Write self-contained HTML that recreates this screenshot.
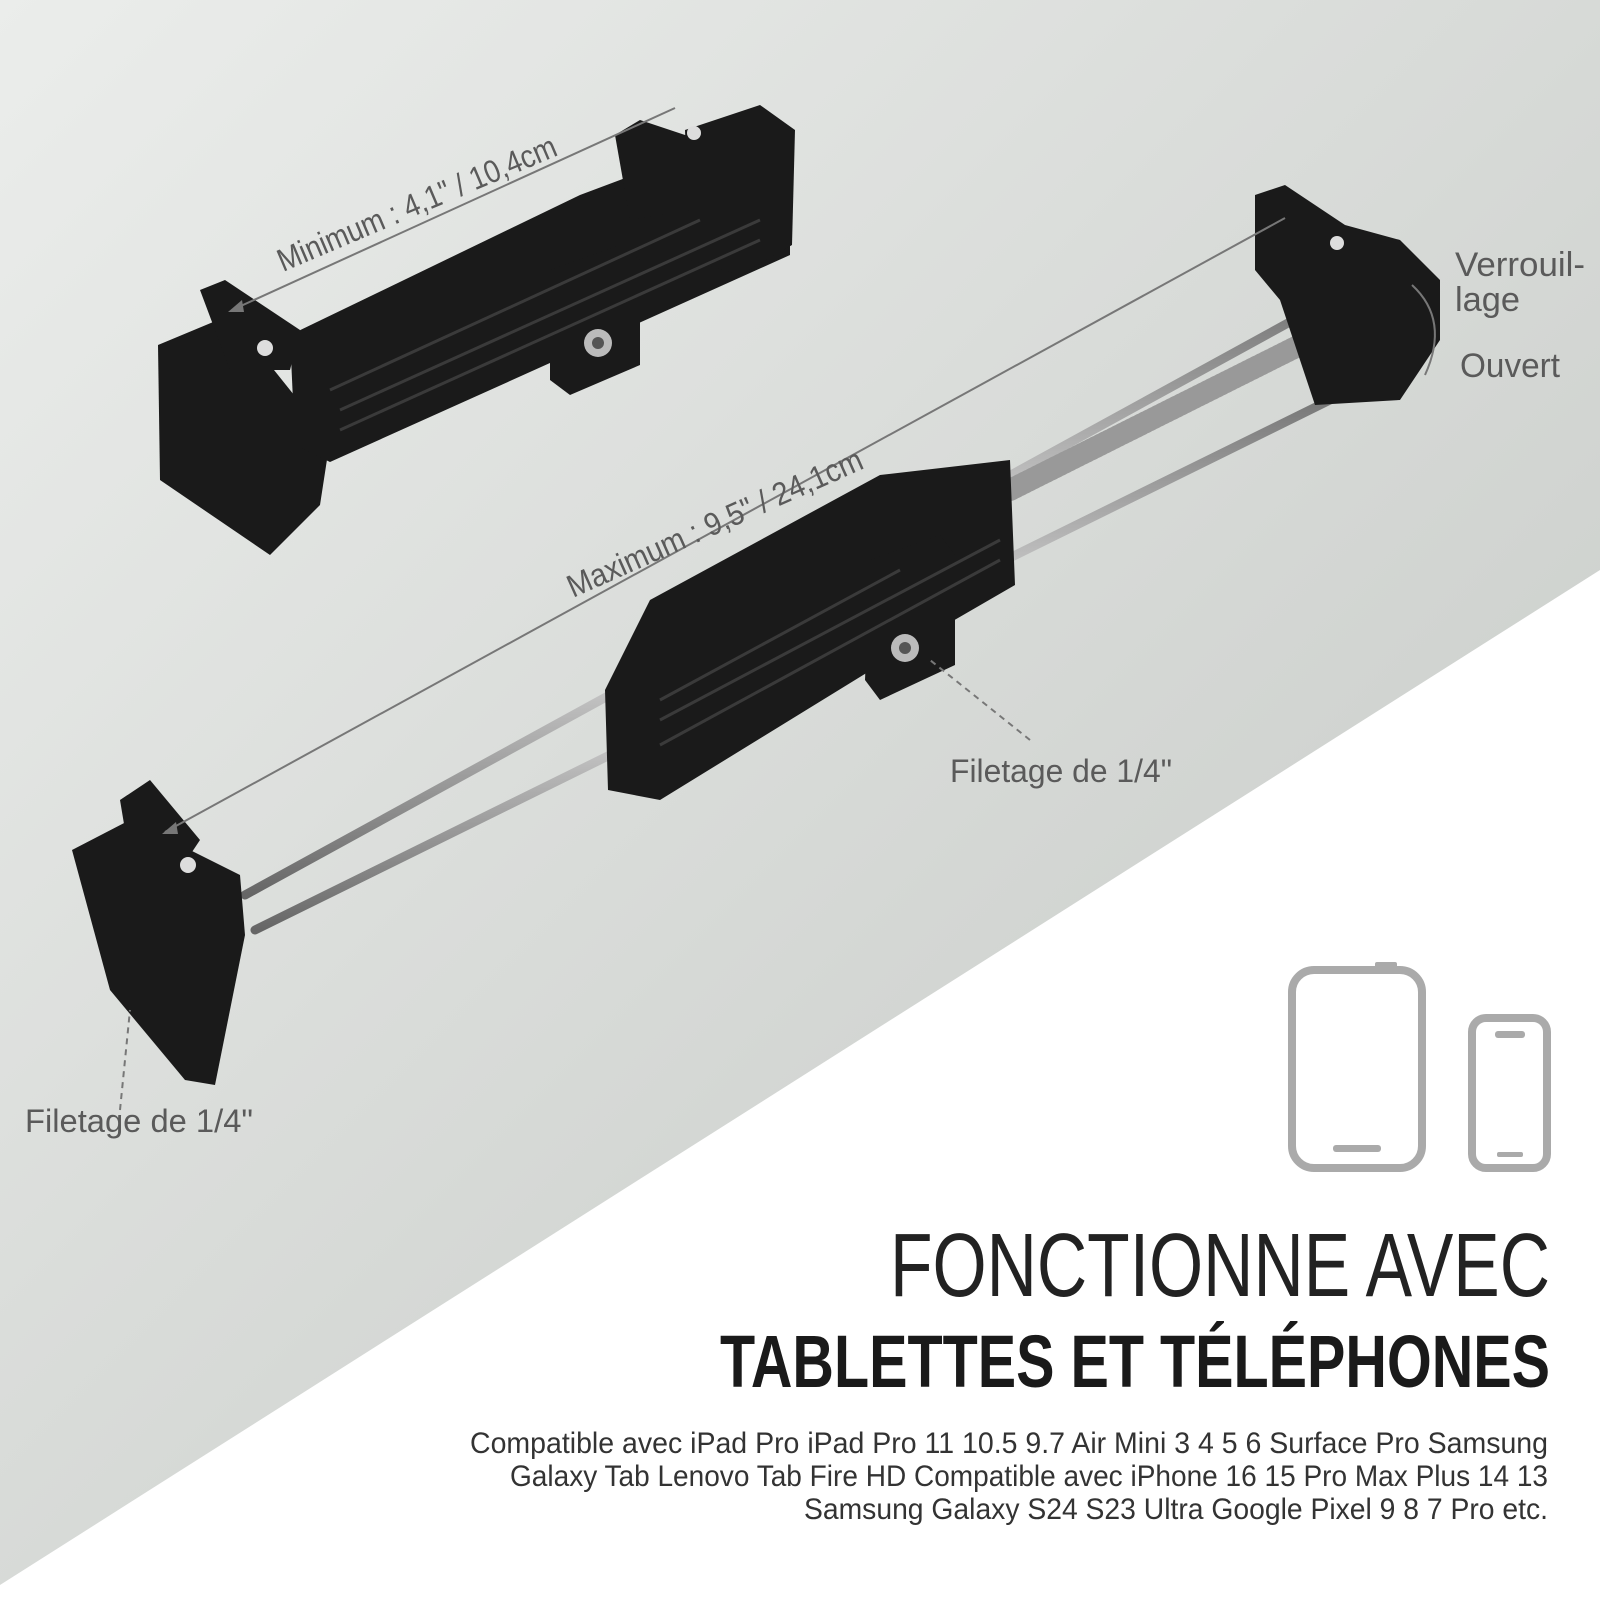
<!DOCTYPE html>
<html><head><meta charset="utf-8"><style>
html,body{margin:0;padding:0;width:1600px;height:1600px;overflow:hidden;background:#fff}
text{font-family:"Liberation Sans Narrow","Liberation Sans",sans-serif}
</style></head><body>
<svg width="1600" height="1600" viewBox="0 0 1600 1600" xmlns="http://www.w3.org/2000/svg">
<defs>
<linearGradient id="bg" x1="0" y1="0" x2="1" y2="1">
<stop offset="0" stop-color="#ebedeb"/><stop offset="0.6" stop-color="#d3d6d3"/><stop offset="1" stop-color="#c4c8c4"/>
</linearGradient>
<linearGradient id="rod" x1="0" y1="0" x2="0" y2="1"><stop offset="0" stop-color="#777"/><stop offset="0.5" stop-color="#eee"/><stop offset="1" stop-color="#666"/></linearGradient>
</defs>
<rect width="1600" height="1600" fill="url(#bg)"/>
<polygon points="1600,570 1600,1600 0,1600 0,1585" fill="#ffffff"/>

<!-- top device -->
<g fill="#1a1a1a">
<polygon points="158,345 230,315 330,440 320,505 270,555 160,480"/>
<polygon points="290,335 580,195 700,150 790,150 790,255 330,462 295,445"/>
<polygon points="685,130 760,105 795,130 792,245 740,275 690,260"/>
<polygon points="615,135 640,120 700,140 690,210 630,220"/>
<polygon points="200,290 225,280 300,330 290,370 230,370"/>
<polygon points="550,270 620,245 640,260 640,365 570,395 550,380"/>
</g>
<g stroke="#3a3a3a" stroke-width="3">
<line x1="340" y1="410" x2="760" y2="220"/><line x1="340" y1="430" x2="760" y2="240"/><line x1="330" y1="390" x2="700" y2="220"/>
</g>
<circle cx="598" cy="343" r="14" fill="#bbb"/><circle cx="598" cy="343" r="6" fill="#555"/>
<circle cx="265" cy="348" r="8" fill="#ddd"/><circle cx="694" cy="133" r="7" fill="#ddd"/>

<!-- bottom device rods -->
<g stroke-linecap="round">
<line x1="245" y1="895" x2="1330" y2="300" stroke="url(#rod)" stroke-width="9"/>
<line x1="255" y1="930" x2="1330" y2="400" stroke="url(#rod)" stroke-width="9"/>
<line x1="1010" y1="490" x2="1320" y2="335" stroke="#999" stroke-width="22" stroke-dasharray="2 3"/>
</g>
<g fill="#1a1a1a">
<polygon points="72,850 130,820 240,875 245,935 215,1085 185,1080 110,990"/>
<polygon points="120,800 150,780 200,840 180,870 130,860"/>
<polygon points="605,690 650,600 880,475 1010,460 1015,585 920,640 660,800 608,790"/>
<polygon points="870,560 940,535 955,555 955,665 880,700 865,680"/>
<polygon points="1255,195 1285,185 1345,225 1400,240 1440,280 1440,340 1400,400 1315,405 1280,300 1255,270"/>
</g>
<g stroke="#3a3a3a" stroke-width="3">
<line x1="660" y1="720" x2="1000" y2="540"/><line x1="660" y1="745" x2="1000" y2="560"/><line x1="660" y1="700" x2="900" y2="570"/>
</g>
<circle cx="905" cy="648" r="14" fill="#bbb"/><circle cx="905" cy="648" r="6" fill="#555"/>
<circle cx="188" cy="865" r="8" fill="#ddd"/><circle cx="1337" cy="243" r="7" fill="#ddd"/>

<!-- dimension lines -->
<g stroke="#777" stroke-width="2" fill="none">
<line x1="232" y1="310" x2="675" y2="108"/>
<line x1="165" y1="832" x2="1285" y2="218"/>
<line x1="1030" y1="740" x2="930" y2="660" stroke-dasharray="6 5"/>
<line x1="120" y1="1110" x2="130" y2="1010" stroke-dasharray="6 5"/>
<path d="M1412 285 Q1450 320 1425 375"/>
</g>
<g fill="#777"><polygon points="228,312 242,300 244,312"/><polygon points="162,834 176,822 178,834"/></g>

<g fill="#5a5a5a" font-size="32">
<text transform="translate(283,272) rotate(-23)" textLength="300" lengthAdjust="spacingAndGlyphs">Minimum : 4,1" / 10,4cm</text>
<text transform="translate(573,598) rotate(-24)" textLength="320" lengthAdjust="spacingAndGlyphs">Maximum : 9,5" / 24,1cm</text>
<text x="950" y="782" textLength="222" lengthAdjust="spacingAndGlyphs">Filetage de 1/4"</text>
<text x="25" y="1132" textLength="228" lengthAdjust="spacingAndGlyphs">Filetage de 1/4"</text>
<text x="1455" y="276" font-size="34" textLength="130" lengthAdjust="spacingAndGlyphs">Verrouil-</text>
<text x="1455" y="311" font-size="34" textLength="65" lengthAdjust="spacingAndGlyphs">lage</text>
<text x="1460" y="377" font-size="34" textLength="100" lengthAdjust="spacingAndGlyphs">Ouvert</text>
</g>

<!-- device icons -->
<g fill="none" stroke="#aaaaaa" stroke-width="8">
<rect x="1292" y="970" width="130" height="198" rx="22"/>
<rect x="1472" y="1018" width="75" height="150" rx="14"/>
</g>
<g fill="#aaaaaa"><rect x="1333" y="1145" width="48" height="7" rx="3"/><rect x="1497" y="1152" width="26" height="5" rx="2"/><rect x="1495" y="1031" width="30" height="7" rx="3"/><rect x="1375" y="962" width="22" height="6" rx="2"/></g>

<text x="1550" y="1296" text-anchor="end" font-size="90" fill="#222" textLength="660" lengthAdjust="spacingAndGlyphs">FONCTIONNE AVEC</text>
<text x="1550" y="1387" text-anchor="end" font-size="74" fill="#1a1a1a" font-weight="bold" textLength="830" lengthAdjust="spacingAndGlyphs">TABLETTES ET TÉLÉPHONES</text>
<g font-size="30" fill="#333" text-anchor="end">
<text x="1548" y="1453" textLength="1078" lengthAdjust="spacingAndGlyphs">Compatible avec iPad Pro iPad Pro 11 10.5 9.7 Air Mini 3 4 5 6 Surface Pro Samsung</text>
<text x="1548" y="1486" textLength="1038" lengthAdjust="spacingAndGlyphs">Galaxy Tab Lenovo Tab Fire HD Compatible avec iPhone 16 15 Pro Max Plus 14 13</text>
<text x="1548" y="1519" textLength="744" lengthAdjust="spacingAndGlyphs">Samsung Galaxy S24 S23 Ultra Google Pixel 9 8 7 Pro etc.</text>
</g>
</svg>
</body></html>
